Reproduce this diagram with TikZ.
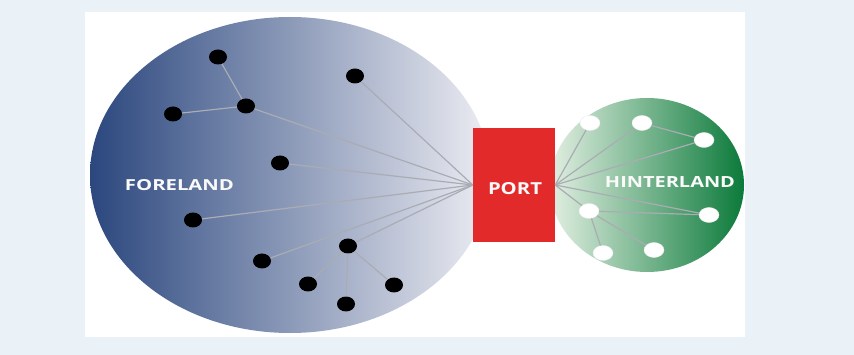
\documentclass[tikz,border=0pt]{standalone}
\usepackage{fontspec}
\setmainfont{Open Sans}
\usepackage{graphicx}
\usetikzlibrary{shapes.geometric}
\definecolor{bgblue}{HTML}{EAF2F7}
\definecolor{navy}{HTML}{2B477E}
\definecolor{lav}{HTML}{EDEDF3}
\definecolor{greenlight}{HTML}{E2EFE2}
\definecolor{greendark}{HTML}{0B7A3A}
\definecolor{portred}{HTML}{E22A2B}
\definecolor{linkgray}{HTML}{AAACB4}
\tikzset{
  bdot/.style={ellipse, fill=black, minimum width=18pt, minimum height=15pt, inner sep=0pt},
  wdot/.style={ellipse, fill=white, draw=white!85!gray, line width=0.4pt, minimum width=20pt, minimum height=15pt, inner sep=0pt},
  link/.style={draw=linkgray, line width=1.2pt},
  lbl/.style={text=white!96!gray, font=\bfseries, inner sep=0pt}
}
\begin{document}
\begin{tikzpicture}[x=1pt,y=-1pt]
\useasboundingbox (0,0) rectangle (854,355);
\fill[bgblue] (0,0) rectangle (854,355);
\fill[white] (85,12) rectangle (745,337);
% regions
\shade[left color=navy, right color=lav] (290,175) ellipse [x radius=200, y radius=158];
\shade[left color=greenlight, right color=greendark] (647,185) ellipse [x radius=97, y radius=87];
% port
\node[fill=portred, minimum width=82pt, minimum height=114pt, inner sep=0pt] (port) at (514,185) {};
% foreland dots
\node[bdot] (f1) at (218,57) {};
\node[bdot] (f2) at (355,76) {};
\node[bdot] (f3) at (246,106) {};
\node[bdot] (f4) at (173,114) {};
\node[bdot] (f5) at (280,163) {};
\node[bdot] (f6) at (193,220) {};
\node[bdot] (f7) at (348,246) {};
\node[bdot] (f8) at (262,261) {};
\node[bdot] (f9) at (308,284) {};
\node[bdot] (f10) at (394,285) {};
\node[bdot] (f11) at (346,304) {};
% hinterland dots
\node[wdot] (h1) at (590,123) {};
\node[wdot] (h2) at (642,123) {};
\node[wdot] (h3) at (704,140) {};
\node[wdot] (h4) at (589,211) {};
\node[wdot] (h5) at (709,215) {};
\node[wdot] (h6) at (603,253) {};
\node[wdot] (h7) at (654,250) {};
% links (foreland)
\draw[link] (f1) -- (f3);
\draw[link] (f4) -- (f3);
\draw[link] (f3) -- (port.west);
\draw[link] (f2) -- (port.west);
\draw[link] (f5) -- (port.west);
\draw[link] (f6) -- (port.west);
\draw[link] (f7) -- (port.west);
\draw[link] (f8) -- (port.west);
\draw[link] (f9) -- (f7);
\draw[link] (f11) -- (f7);
\draw[link] (f10) -- (f7);
% links (hinterland)
\draw[link] (port.east) -- (h1);
\draw[link] (port.east) -- (h2);
\draw[link] (port.east) -- (h3);
\draw[link] (port.east) -- (h4);
\draw[link] (port.east) -- (h5);
\draw[link] (h2) -- (h3);
\draw[link] (h4) -- (h5);
\draw[link] (h4) -- (h6);
\draw[link] (h4) -- (h7);
% labels
\node[lbl] (tfore) at (179.5,185.5) {\resizebox{109pt}{11pt}{FORELAND}};
\node[lbl] (tport) at (515,189) {\resizebox{54pt}{12pt}{PORT}};
\node[lbl] (thint) at (670,182.5) {\resizebox{130pt}{11pt}{HINTERLAND}};
\end{tikzpicture}
\end{document}
